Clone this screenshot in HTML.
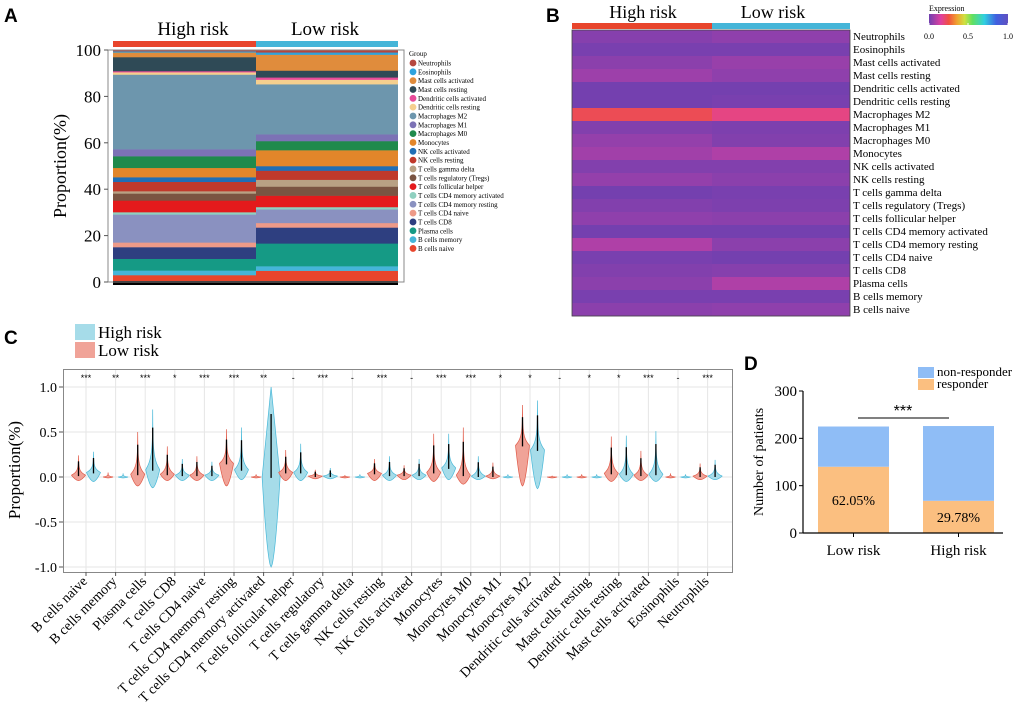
<!DOCTYPE html>
<html><head><meta charset="utf-8"><style>
html,body{margin:0;padding:0;background:#fff}
svg{display:block;font-family:"Liberation Serif",serif}
</style></head><body>
<svg id="fig" width="1020" height="713" viewBox="0 0 1020 713" xmlns="http://www.w3.org/2000/svg">
<g id="pA"></g>
<g id="pB"></g>
<g id="pC"></g>
<g id="pD"></g>
</svg>
<script>
const cellTypes=["Neutrophils","Eosinophils","Mast cells activated","Mast cells resting","Dendritic cells activated","Dendritic cells resting","Macrophages M2","Macrophages M1","Macrophages M0","Monocytes","NK cells activated","NK cells resting","T cells gamma delta","T cells regulatory (Tregs)","T cells follicular helper","T cells CD4 memory activated","T cells CD4 memory resting","T cells CD4 naive","T cells CD8","Plasma cells","B cells memory","B cells naive"];
const cellColors=["#b5473f","#2ea3dd","#e08c3c","#2f4a56","#e84c9a","#f5cf8e","#6d96ad","#7c72b5","#1f8a4c","#e2862a","#1f6eb5","#c0392b","#b8a184","#7a5442","#e41a1c","#8fd0c0","#8a91c0","#ee9a88","#2e3f80","#159a85","#45b5d8","#e8452c"];
// Panel A mean proportions (same order as cellTypes)
const propHigh=[0.005,0.005,0.02,0.06,0.005,0.01,0.32,0.03,0.05,0.04,0.02,0.04,0.01,0.03,0.05,0.01,0.12,0.02,0.05,0.05,0.02,0.03];
const propLow=[0.01,0.01,0.07,0.03,0.01,0.02,0.22,0.03,0.04,0.07,0.02,0.04,0.03,0.04,0.05,0.01,0.06,0.02,0.07,0.10,0.02,0.05];
const yTicksA=[0,20,40,60,80,100];
// Panel B heatmap mean expression
const heatHigh=[0.05,0.02,0.06,0.10,0.01,0.01,0.38,0.04,0.08,0.11,0.04,0.08,0.01,0.04,0.07,0.01,0.14,0.02,0.04,0.06,0.02,0.06];
const heatLow=[0.07,0.02,0.09,0.07,0.01,0.02,0.30,0.03,0.04,0.14,0.04,0.06,0.02,0.03,0.06,0.01,0.06,0.01,0.05,0.14,0.02,0.07];
// Panel C violins
const vCats=["B cells naive","B cells memory","Plasma cells","T cells CD8","T cells CD4 naive","T cells CD4 memory resting","T cells CD4 memory activated","T cells follicular helper","T cells regulatory","T cells gamma delta","NK cells resting","NK cells activated","Monocytes","Monocytes M0","Monocytes M1","Monocytes M2","Dendritic cells activated","Mast cells resting","Dendritic cells resting","Mast cells activated","Eosinophils","Neutrophils"];
const sigLabels=["***","**","***","*","***","***","**","-","***","-","***","-","***","***","*","*","-","*","*","***","-","***"];
const lowMax=[0.24,0.05,0.50,0.34,0.23,0.53,0.03,0.30,0.08,0.02,0.20,0.13,0.48,0.55,0.16,0.80,0.01,0.03,0.45,0.29,0.04,0.15];
const highMax=[0.28,0.04,0.75,0.20,0.17,0.55,1.00,0.37,0.10,0.03,0.23,0.20,0.48,0.23,0.03,0.85,0.03,0.03,0.46,0.51,0.03,0.19];
const lowMode=[0.02,0.0,0.03,0.03,0.02,0.15,0.0,0.05,0.01,0.0,0.04,0.02,0.05,0.02,0.01,0.35,0.0,0.0,0.04,0.02,0.0,0.01];
const highMode=[0.05,0.0,0.08,0.02,0.02,0.08,0.0,0.05,0.01,0.0,0.02,0.02,0.10,0.01,0.0,0.30,0.0,0.0,0.03,0.03,0.0,0.01];
const lowMin=[-0.04,-0.01,-0.10,-0.04,-0.04,-0.10,-0.01,-0.04,-0.02,-0.01,-0.04,-0.03,-0.05,-0.08,-0.02,-0.10,-0.01,-0.01,-0.05,-0.04,-0.01,-0.03];
const highMin=[-0.05,-0.01,-0.12,-0.04,-0.04,-0.03,-1.00,-0.04,-0.02,-0.01,-0.04,-0.03,-0.03,-0.03,-0.01,-0.13,-0.01,-0.01,-0.05,-0.05,-0.01,-0.03];
const yTicksC=[1.0,0.5,0.0,-0.5,-1.0];
// Panel D
const dCats=["Low risk","High risk"];
const dResponder=[140,68];
const dNonResponder=[85,158];
const dPct=["62.05%","29.78%"];
const yTicksD=[0,100,200,300];

const NS="http://www.w3.org/2000/svg";
function mk(parent,tag,attrs,text){const e=document.createElementNS(NS,tag);for(const k in attrs)e.setAttribute(k,attrs[k]);if(text!==undefined)e.textContent=text;parent.appendChild(e);return e;}

/* ---------- Panel A ---------- */
(function(){
const g=document.getElementById('pA');
const yA=v=>282-v*2.32;
let t=mk(g,'text',{x:4,y:22,'font-family':'Liberation Sans,sans-serif','font-weight':'bold','font-size':19},'A');


let r=mk(g,'rect',{x:113,y:41,width:143,height:6,fill:'#e8452c'});


r=mk(g,'rect',{x:256,y:41,width:142,height:6,fill:'#45b5d8'});


t=mk(g,'text',{x:193,y:35,'font-size':19,'text-anchor':'middle'},'High risk');


t=mk(g,'text',{x:325,y:35,'font-size':19,'text-anchor':'middle'},'Low risk');


const groups=[[propHigh,113,143],[propLow,256,142]];
groups.forEach(([arr,x0,w],gi)=>{
  const tot=arr.reduce((a,b)=>a+b,0);
  let cum=0;
  for(let i=arr.length-1;i>=0;i--){
    const v=arr[i]/tot*100;
    const s=mk(g,'rect',{x:x0,y:yA(cum+v),width:w,height:v*2.32+0.3,fill:cellColors[i]});
    
    
    cum+=v;
  }
});
r=mk(g,'rect',{x:113,y:281,width:285,height:4,fill:'#000'});


mk(g,'rect',{x:108,y:50,width:296,height:232,fill:'none',stroke:'#888','stroke-width':1});
yTicksA.forEach(v=>{
  mk(g,'line',{x1:104,x2:108,y1:yA(v),y2:yA(v),stroke:'#555'});
  const tl=mk(g,'text',{x:101,y:yA(v)+6,'font-size':17,'text-anchor':'end'},String(v));
  
  
});
t=mk(g,'text',{x:66,y:166,'font-size':18,'text-anchor':'middle',transform:'rotate(-90 66 166)'},'Proportion(%)');


t=mk(g,'text',{x:409,y:56,'font-size':7},'Group');


cellTypes.forEach((n,i)=>{
  const y=63+i*8.83;
  const c=mk(g,'circle',{cx:413,cy:y,r:3.4,fill:cellColors[i]});
  
  
  const tl=mk(g,'text',{x:418,y:y+2.5,'font-size':7},n);
  
  
});
})();

/* ---------- Panel B ---------- */
(function(){
const g=document.getElementById('pB');
const stops=[[0,[112,64,176]],[0.15,[224,64,160]],[0.25,[240,80,64]],[0.35,[240,160,48]],[0.45,[208,224,64]],[0.55,[96,224,96]],[0.7,[48,208,224]],[0.85,[64,96,224]],[1,[96,80,192]]];
function cmap(v){for(let i=1;i<stops.length;i++){if(v<=stops[i][0]){const a=stops[i-1],b=stops[i],f=(v-a[0])/(b[0]-a[0]);return 'rgb('+a[1].map((c,k)=>Math.round(c+(b[1][k]-c)*f)).join(',')+')';}}return 'rgb(96,80,192)';}
let t=mk(g,'text',{x:546,y:22,'font-family':'Liberation Sans,sans-serif','font-weight':'bold','font-size':19},'B');


let r=mk(g,'rect',{x:572,y:23,width:140,height:6,fill:'#e8452c'});


r=mk(g,'rect',{x:712,y:23,width:138,height:6,fill:'#45b5d8'});


t=mk(g,'text',{x:643,y:18,'font-size':18,'text-anchor':'middle'},'High risk');


t=mk(g,'text',{x:773,y:18,'font-size':18,'text-anchor':'middle'},'Low risk');


const rh=13;
cellTypes.forEach((n,i)=>{
  const y=30+i*rh;
  const a=mk(g,'rect',{x:572,y:y,width:140,height:rh+0.3,fill:cmap(heatHigh[i]*0.6)});
  
  
  const b=mk(g,'rect',{x:712,y:y,width:138,height:rh+0.3,fill:cmap(heatLow[i]*0.6)});
  
  
  const tl=mk(g,'text',{x:853,y:y+10,'font-size':11},n);
  
  
});
mk(g,'rect',{x:572,y:30,width:278,height:286,fill:'none',stroke:'#444','stroke-width':0.8});
const defs=mk(g,'defs',{});
const lg=mk(defs,'linearGradient',{id:'cbar',x1:0,x2:1,y1:0,y2:0});
stops.forEach(s=>mk(lg,'stop',{offset:s[0],'stop-color':'rgb('+s[1].join(',')+')'}));
r=mk(g,'rect',{x:929,y:14,width:79,height:11,fill:'url(#cbar)'});


t=mk(g,'text',{x:929,y:11,'font-size':8},'Expression');


[['0.0',929],['0.5',968],['1.0',1008]].forEach(([s,x])=>{
  mk(g,'line',{x1:x,x2:x,y1:23,y2:27,stroke:'#fff'});
  const tl=mk(g,'text',{x:x,y:39,'font-size':8,'text-anchor':'middle'},s);
  
  
});
})();

/* ---------- Panel C ---------- */
(function(){
const g=document.getElementById('pC');
const yC=v=>477-v*90;
const xC=i=>86+i*29.6;
let t=mk(g,'text',{x:4,y:344,'font-family':'Liberation Sans,sans-serif','font-weight':'bold','font-size':19},'C');


let r=mk(g,'rect',{x:75,y:324,width:20,height:16,fill:'#a6dce9'});


t=mk(g,'text',{x:98,y:338,'font-size':17},'High risk');


r=mk(g,'rect',{x:75,y:342,width:20,height:16,fill:'#f0a398'});


t=mk(g,'text',{x:98,y:356,'font-size':17},'Low risk');


yTicksC.forEach(v=>{
  mk(g,'line',{x1:64,x2:732,y1:yC(v),y2:yC(v),stroke:'#e6e6e6','stroke-width':1});
  mk(g,'line',{x1:59,x2:63,y1:yC(v),y2:yC(v),stroke:'#555'});
  const tl=mk(g,'text',{x:57,y:yC(v)+5,'font-size':14,'text-anchor':'end'},v.toFixed(1));
  
  
});
vCats.forEach((c,i)=>{
  mk(g,'line',{x1:xC(i),x2:xC(i),y1:370,y2:572,stroke:'#e6e6e6','stroke-width':1});
});
mk(g,'rect',{x:63.5,y:369.5,width:669,height:203,fill:'none',stroke:'#888'});
t=mk(g,'text',{x:20,y:470,'font-size':17,'text-anchor':'middle',transform:'rotate(-90 20 470)'},'Proportion(%)');


function violin(cx,mn,md,mx,w,fill,stroke,name){
  const pts=[],n=40,lin=(mx-md)>0.9;
  for(let k=0;k<=n;k++){const v=mn+(md-mn)*k/n;const f=md>mn?Math.pow(k/n,0.6):1;pts.push([v,w*f]);}
  for(let k=1;k<=n;k++){const tt=k/n;const v=md+(mx-md)*tt;const f=lin?(1-tt):Math.exp(-5*tt)*(1-tt)+0.04*(1-tt);pts.push([v,w*f]);}
  let d='M'+cx+','+yC(mn);
  pts.forEach(p=>d+='L'+(cx+p[1]).toFixed(2)+','+yC(p[0]).toFixed(2));
  for(let k=pts.length-1;k>=0;k--)d+='L'+(cx-pts[k][1]).toFixed(2)+','+yC(pts[k][0]).toFixed(2);
  const p=mk(g,'path',{d:d+'Z',fill:fill,stroke:stroke,'stroke-width':0.7});
  
  
  if(mx-mn>0.08){const ln=mk(g,'line',{x1:cx,x2:cx,y1:yC(md-0.01),y2:yC(md+(mx-md)*0.7),stroke:'#000','stroke-width':1.3});
  
  }
}
vCats.forEach((c,i)=>{
  const flatL=lowMax[i]-lowMin[i]<0.08, flatH=highMax[i]-highMin[i]<0.08;
  violin(xC(i)-7.5,lowMin[i],lowMode[i],lowMax[i],flatL?5:7,'#f0a398','#e05a48','violin-low-'+i);
  violin(xC(i)+7.5,highMin[i],highMode[i],highMax[i],highMax[i]-highMin[i]>1.5?9:(flatH?5:7),'#a6dce9','#48b8d8','violin-high-'+i);
  const s=mk(g,'text',{x:xC(i),y:381,'font-size':9,'text-anchor':'middle','font-family':'Liberation Sans,sans-serif'},sigLabels[i]);
  
  
  mk(g,'line',{x1:xC(i),x2:xC(i),y1:572,y2:576,stroke:'#555'});
  const tl=mk(g,'text',{x:xC(i)+2,y:582,'font-size':14,'text-anchor':'end',transform:'rotate(-45 '+(xC(i)+2)+' 582)'},c);
  
  
});
})();

/* ---------- Panel D ---------- */
(function(){
const g=document.getElementById('pD');
const yD=v=>533-v*0.4733;
const xs=[818,923],bw=71;
let t=mk(g,'text',{x:744,y:370,'font-family':'Liberation Sans,sans-serif','font-weight':'bold','font-size':19},'D');


dCats.forEach((c,i)=>{
  const tot=dResponder[i]+dNonResponder[i];
  const a=mk(g,'rect',{x:xs[i],y:yD(dResponder[i]),width:bw,height:dResponder[i]*0.4733,fill:'#fbbf80'});
  
  
  const b=mk(g,'rect',{x:xs[i],y:yD(tot),width:bw,height:dNonResponder[i]*0.4733,fill:'#8fbdf6'});
  
  
  const p=mk(g,'text',{x:xs[i]+bw/2,y:yD(dResponder[i]/2)+5,'font-size':14,'text-anchor':'middle'},dPct[i]);
  
  
  mk(g,'line',{x1:xs[i]+bw/2,x2:xs[i]+bw/2,y1:533,y2:537,stroke:'#000'});
  const tl=mk(g,'text',{x:xs[i]+bw/2,y:555,'font-size':15,'text-anchor':'middle'},c);
  
  
});
mk(g,'line',{x1:803,x2:803,y1:391,y2:533,stroke:'#000','stroke-width':1.2});
mk(g,'line',{x1:803,x2:1003,y1:533,y2:533,stroke:'#000','stroke-width':1.2});
yTicksD.forEach(v=>{
  mk(g,'line',{x1:799,x2:803,y1:yD(v),y2:yD(v),stroke:'#000'});
  const tl=mk(g,'text',{x:797,y:yD(v)+5,'font-size':15,'text-anchor':'end'},String(v));
  
  
});
t=mk(g,'text',{x:763,y:462,'font-size':14,'text-anchor':'middle',transform:'rotate(-90 763 462)'},'Number of patients');


mk(g,'line',{x1:858,x2:949,y1:418,y2:418,stroke:'#000'});
t=mk(g,'text',{x:903,y:416,'font-size':16,'text-anchor':'middle','font-family':'Liberation Sans,sans-serif'},'***');


let r=mk(g,'rect',{x:918,y:367,width:16,height:11,fill:'#8fbdf6'});


t=mk(g,'text',{x:937,y:376,'font-size':13},'non-responder');


r=mk(g,'rect',{x:918,y:379,width:16,height:11,fill:'#fbbf80'});


t=mk(g,'text',{x:937,y:388,'font-size':13},'responder');


})();
</script>
</body></html>
